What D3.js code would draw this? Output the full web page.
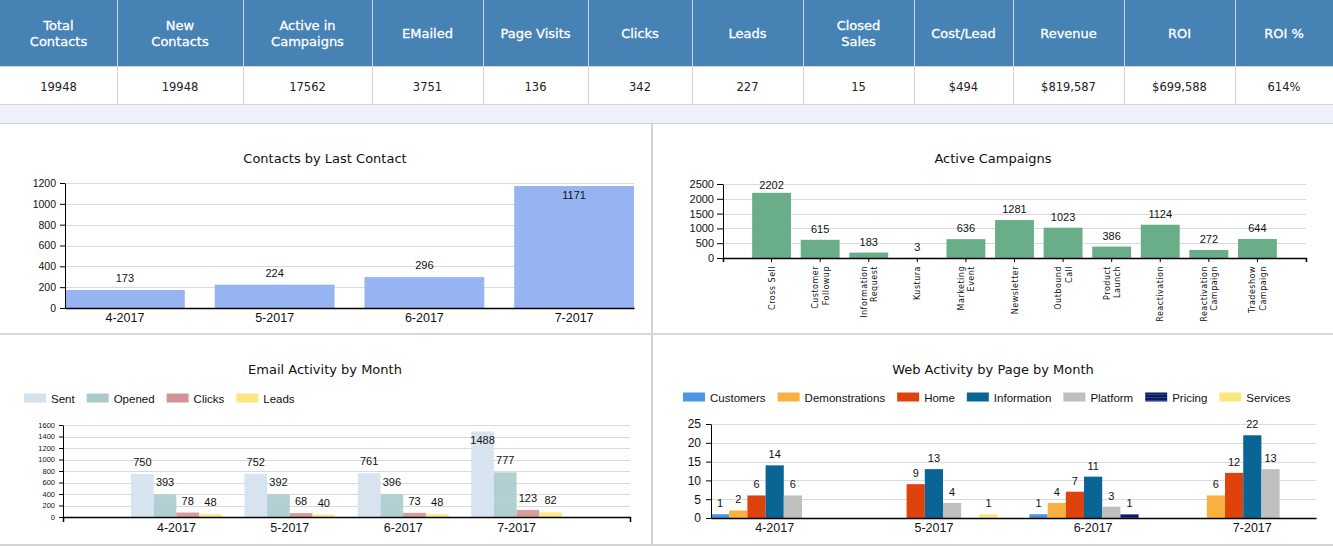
<!DOCTYPE html>
<html>
<head>
<meta charset="utf-8">
<script src="https://cdn.jsdelivr.net/npm/d3@7"></script>
<style>
body { margin: 0; background: #fff; overflow: hidden; }
svg { display: block; }
text { font-family: "Liberation Sans", Arial, sans-serif; fill: #111; }
.tah { font-family: "DejaVu Sans", Verdana, sans-serif; }
</style>
</head>
<body>
<svg id="dash" width="1333" height="546"></svg>
<script>
// summary row
var summary_labels = [["Total", "Contacts"], ["New", "Contacts"], ["Active in", "Campaigns"], ["EMailed"], ["Page Visits"], ["Clicks"], ["Leads"], ["Closed", "Sales"], ["Cost/Lead"], ["Revenue"], ["ROI"], ["ROI %"]];
var summary_values = ["19948", "19948", "17562", "3751", "136", "342", "227", "15", "$494", "$819,587", "$699,588", "614%"];

// contacts by last contact
var contact_months = ["4-2017", "5-2017", "6-2017", "7-2017"];
var contact_counts = [173, 224, 296, 1171];
var contact_ticks = [0, 200, 400, 600, 800, 1000, 1200];

// active campaigns
var campaign_names = [["Cross Sell"], ["Customer", "Followup"], ["Information", "Request"], ["Kustura"], ["Marketing", "Event"], ["Newsletter"], ["Outbound", "Call"], ["Product", "Launch"], ["Reactivation"], ["Reactivation", "Campaign"], ["Tradeshow", "Campaign"]];
var campaign_counts = [2202, 615, 183, 3, 636, 1281, 1023, 386, 1124, 272, 644];
var campaign_ticks = [0, 500, 1000, 1500, 2000, 2500];

// email activity
var email_months = ["4-2017", "5-2017", "6-2017", "7-2017"];
var email_series = ["Sent", "Opened", "Clicks", "Leads"];
var email_sent = [750, 752, 761, 1488];
var email_opened = [393, 392, 396, 777];
var email_clicks = [78, 68, 73, 123];
var email_leads = [48, 40, 48, 82];
var email_ticks = [0, 200, 400, 600, 800, 1000, 1200, 1400, 1600];

// web activity
var web_months = ["4-2017", "5-2017", "6-2017", "7-2017"];
var web_pages = ["Customers", "Demonstrations", "Home", "Information", "Platform", "Pricing", "Services"];
var web_customers = [1, 0, 1, 0];
var web_demonstrations = [2, 0, 4, 6];
var web_home = [6, 9, 7, 12];
var web_information = [14, 13, 11, 22];
var web_platform = [6, 4, 3, 13];
var web_pricing = [0, 0, 1, 0];
var web_services = [0, 1, 0, 0];
var web_ticks = [0, 5, 10, 15, 20, 25];

var svg = d3.select('#dash');

var defs = svg.append('defs');
var pricing_pattern = defs.append('pattern').attr('id', 'pricing_fill').attr('patternUnits', 'userSpaceOnUse').attr('width', 4).attr('height', 3);
pricing_pattern.append('rect').attr('width', 4).attr('height', 3).attr('fill', '#0f1b5f');
pricing_pattern.append('rect').attr('y', 1).attr('width', 4).attr('height', 1).attr('fill', '#2a4496');

// ---------- summary table ----------
var col_widths = [117, 126, 129, 111, 105, 104, 111, 111, 99, 111, 111, 98];
var col_x = [0];
for (var i = 0; i < col_widths.length; i++) {
    col_x.push(col_x[i] + col_widths[i]);
}

svg.append('rect').attr('x', 0).attr('y', 0).attr('width', 1333).attr('height', 66).attr('fill', '#4682b4');
svg.append('rect').attr('x', 0).attr('y', 105).attr('width', 1333).attr('height', 19).attr('fill', '#eef1f9');
svg.append('line').attr('x1', 0).attr('x2', 1333).attr('y1', 104.5).attr('y2', 104.5).attr('stroke', '#d3d3d3');
svg.append('line').attr('x1', 0).attr('x2', 1333).attr('y1', 123.5).attr('y2', 123.5).attr('stroke', '#d3d3d3');
svg.append('line').attr('x1', 0).attr('x2', 1333).attr('y1', 66.5).attr('y2', 66.5).attr('stroke', '#d3d3d3');

for (var i = 1; i < col_widths.length; i++) {
    svg.append('line').attr('x1', col_x[i] + 0.5).attr('x2', col_x[i] + 0.5).attr('y1', 0).attr('y2', 66).attr('stroke', '#c6d5e4');
    svg.append('line').attr('x1', col_x[i] + 0.5).attr('x2', col_x[i] + 0.5).attr('y1', 66).attr('y2', 104).attr('stroke', '#d3d3d3');
}

svg.selectAll('g.head').data(summary_labels).enter().append('g')
    .attr('class', 'head')
    .attr('transform', function(d, i) { return 'translate(' + (col_x[i] + col_widths[i] / 2) + ',0)'; })
    .each(function(lines) {
        var g = d3.select(this);
        var y0 = lines.length == 2 ? 29.5 : 38;
        lines.forEach(function(line, j) {
            g.append('text').attr('class', 'tah').attr('y', y0 + j * 16.5).attr('text-anchor', 'middle')
                .attr('style', 'font-size:13px; fill:#fff; stroke:#fff; stroke-width:0.3px')
                .text(line);
        });
    });

svg.selectAll('text.val').data(summary_values).enter().append('text')
    .attr('class', 'val tah')
    .attr('x', function(d, i) { return col_x[i] + col_widths[i] / 2; })
    .attr('y', 91)
    .attr('text-anchor', 'middle')
    .attr('style', 'font-size:11.5px; fill:#222')
    .text(function(d) { return d; });

// ---------- panel borders ----------
svg.append('rect').attr('x', 651).attr('y', 124).attr('width', 2).attr('height', 422).attr('fill', '#d3d3d3');
svg.append('rect').attr('x', 0).attr('y', 333).attr('width', 1333).attr('height', 2).attr('fill', '#d8d8dc');
svg.append('rect').attr('x', 0).attr('y', 544).attr('width', 1333).attr('height', 2).attr('fill', '#d3d3d3');

function addTitle(x, y, label) {
    svg.append('text').attr('class', 'tah').attr('x', x).attr('y', y).attr('text-anchor', 'middle')
        .attr('style', 'font-size:13px; fill:#111').text(label);
}

function drawGrid(y, ticks, x0, x1) {
    svg.append('g').selectAll('line').data(ticks.slice(1)).enter().append('line')
        .attr('x1', x0).attr('x2', x1)
        .attr('y1', function(d) { return Math.round(y(d)) + 0.5; })
        .attr('y2', function(d) { return Math.round(y(d)) + 0.5; })
        .attr('stroke', '#dadada');
}

function drawYAxis(y, ticks, x0, fontSize, tickSize, padding) {
    var g = svg.append('g').attr('transform', 'translate(' + x0 + ',0)')
        .call(d3.axisLeft(y).tickValues(ticks).tickFormat(d3.format('d'))
            .tickSize(tickSize).tickSizeOuter(0).tickPadding(padding));
    g.selectAll('text').attr('style', 'font-size:' + fontSize + 'px; fill:#111; font-family:"Liberation Sans", Arial, sans-serif');
    g.selectAll('line, path').attr('stroke', '#000');
    return g;
}

function styleXAxis(g, fontSize) {
    g.selectAll('text').attr('style', 'font-size:' + fontSize + 'px; fill:#111; font-family:"Liberation Sans", Arial, sans-serif');
    g.select('path').attr('stroke', '#000').attr('stroke-width', 1.5);
    g.selectAll('line').attr('stroke', '#000');
}

function labelY(barTop, plotTop, gap) {
    var ly = barTop - gap;
    if (ly < plotTop + 1) {
        ly = barTop + 13;
    }
    return ly;
}

// ---------- Contacts by Last Contact ----------
addTitle(325, 163, 'Contacts by Last Contact');

var c_x = d3.scaleBand().domain(contact_months).range([65, 634]).paddingInner(0.2).paddingOuter(0);
var c_y = d3.scaleLinear().domain([0, 1200]).range([308, 183]);
drawGrid(c_y, contact_ticks, 65, 634);

svg.append('g').selectAll('rect').data(contact_counts).enter().append('rect')
    .attr('x', function(d, i) { return c_x(contact_months[i]); })
    .attr('y', function(d) { return c_y(d); })
    .attr('width', c_x.bandwidth())
    .attr('height', function(d) { return c_y(0) - c_y(d); })
    .attr('fill', '#95b4f1');

svg.append('g').selectAll('text').data(contact_counts).enter().append('text')
    .attr('x', function(d, i) { return c_x(contact_months[i]) + c_x.bandwidth() / 2; })
    .attr('y', function(d) { return labelY(c_y(d), 183, 8); })
    .attr('text-anchor', 'middle')
    .attr('style', 'font-size:11px')
    .text(function(d) { return d; });

drawYAxis(c_y, contact_ticks, 65, 10.5, 5, 4);
styleXAxis(svg.append('g').attr('transform', 'translate(0,308)')
    .call(d3.axisBottom(c_x).tickSize(0).tickPadding(5)), 12.5);

// ---------- Active Campaigns ----------
addTitle(993, 163, 'Active Campaigns');

var campaign_keys = campaign_names.map(function(d) { return d.join(' '); });
var a_x = d3.scaleBand().domain(campaign_keys).range([723, 1306]).paddingInner(0.2).paddingOuter(0.6);
var a_y = d3.scaleLinear().domain([0, 2500]).range([258, 184]);
drawGrid(a_y, campaign_ticks, 723, 1306);

svg.append('g').selectAll('rect').data(campaign_counts).enter().append('rect')
    .attr('x', function(d, i) { return a_x(campaign_keys[i]); })
    .attr('y', function(d) { return a_y(d); })
    .attr('width', a_x.bandwidth())
    .attr('height', function(d) { return a_y(0) - a_y(d); })
    .attr('fill', '#6aae89');

svg.append('g').selectAll('text').data(campaign_counts).enter().append('text')
    .attr('x', function(d, i) { return a_x(campaign_keys[i]) + a_x.bandwidth() / 2; })
    .attr('y', function(d) { return Math.max(a_y(d) - 7, 189); })
    .attr('text-anchor', 'middle')
    .attr('style', 'font-size:11px')
    .text(function(d) { return d; });

drawYAxis(a_y, campaign_ticks, 723, 11, 6, 3);
styleXAxis(svg.append('g').attr('transform', 'translate(0,258)')
    .call(d3.axisBottom(a_x).tickSize(4).tickSizeOuter(4).tickFormat(function() { return ''; })), 11);

svg.append('g').selectAll('g').data(campaign_names).enter().append('g')
    .attr('transform', function(d, i) { return 'translate(' + (a_x(campaign_keys[i]) + a_x.bandwidth() / 2) + ',266) rotate(-90)'; })
    .each(function(lines) {
        var g = d3.select(this);
        var y0 = lines.length == 2 ? -2 : 3;
        lines.forEach(function(line, j) {
            g.append('text').attr('class', 'tah').attr('x', 0).attr('y', y0 + j * 10.5)
                .attr('text-anchor', 'end')
                .attr('style', 'font-size:8px; letter-spacing:0.5px; fill:#111')
                .text(line);
        });
    });

// ---------- legends ----------
function drawLegend(names, colors, x0, y) {
    var x = x0;
    names.forEach(function(name, i) {
        svg.append('rect').attr('x', x).attr('y', y - 4.5).attr('width', 22).attr('height', 9).attr('fill', colors[i]);
        var t = svg.append('text').attr('x', x + 27).attr('y', y + 4.5).attr('style', 'font-size:11.5px').text(name);
        x += 27 + t.node().getComputedTextLength() + 12;
    });
}

function drawGroupedBars(x0, x1, y, months, seriesValues, colors, opacity, gap, plotTop) {
    var bars = svg.append('g');
    var labels = svg.append('g');
    seriesValues.forEach(function(values, s) {
        values.forEach(function(v, m) {
            if (!v) { return; }
            var bx = x0(months[m]) + x1(s);
            bars.append('rect').attr('x', bx).attr('y', y(v))
                .attr('width', x1.bandwidth()).attr('height', y(0) - y(v))
                .attr('fill', colors[s]).attr('fill-opacity', opacity);
            labels.append('text').attr('x', bx + x1.bandwidth() / 2).attr('y', labelY(y(v), plotTop, gap))
                .attr('text-anchor', 'middle').attr('style', 'font-size:11px').text(v);
        });
    });
}

// ---------- Email Activity by Month ----------
addTitle(325, 374, 'Email Activity by Month');
var email_colors = ['#d4e1ee', '#a9cbcc', '#d39394', '#fee581'];
drawLegend(email_series, email_colors, 24, 398);

var e_x0 = d3.scaleBand().domain(email_months).range([63, 630]).paddingInner(0.2).paddingOuter(0.6);
var e_x1 = d3.scaleBand().domain(d3.range(email_series.length)).range([0, e_x0.bandwidth()]);
var e_y = d3.scaleLinear().domain([0, 1600]).range([517, 425]);
drawGrid(e_y, email_ticks, 63, 630);
drawGroupedBars(e_x0, e_x1, e_y, email_months, [email_sent, email_opened, email_clicks, email_leads], email_colors, 0.9, 8, 425);
drawYAxis(e_y, email_ticks, 63, 7.5, 4, 4);
styleXAxis(svg.append('g').attr('transform', 'translate(0,517)')
    .call(d3.axisBottom(e_x0).tickSizeInner(0).tickSizeOuter(5).tickPadding(6)), 12.5);

// ---------- Web Activity by Page by Month ----------
addTitle(993, 374, 'Web Activity by Page by Month');
var web_colors = ['#4b97e3', '#fbb13f', '#df430d', '#0a6595', '#bfbfbf', 'url(#pricing_fill)', '#fde67f'];
drawLegend(web_pages, web_colors, 683, 397);

var w_x0 = d3.scaleBand().domain(web_months).range([711, 1316]).paddingInner(0.2).paddingOuter(0);
var w_x1 = d3.scaleBand().domain(d3.range(web_pages.length)).range([0, w_x0.bandwidth()]);
var w_y = d3.scaleLinear().domain([0, 25]).range([518, 424]);
drawGrid(w_y, web_ticks, 711, 1316);
drawGroupedBars(w_x0, w_x1, w_y, web_months,
    [web_customers, web_demonstrations, web_home, web_information, web_platform, web_pricing, web_services],
    web_colors, 1, 7, 424);
drawYAxis(w_y, web_ticks, 711, 12, 5, 5);
styleXAxis(svg.append('g').attr('transform', 'translate(0,518)')
    .call(d3.axisBottom(w_x0).tickSize(0).tickPadding(5)), 12.5);
</script>
</body>
</html>
